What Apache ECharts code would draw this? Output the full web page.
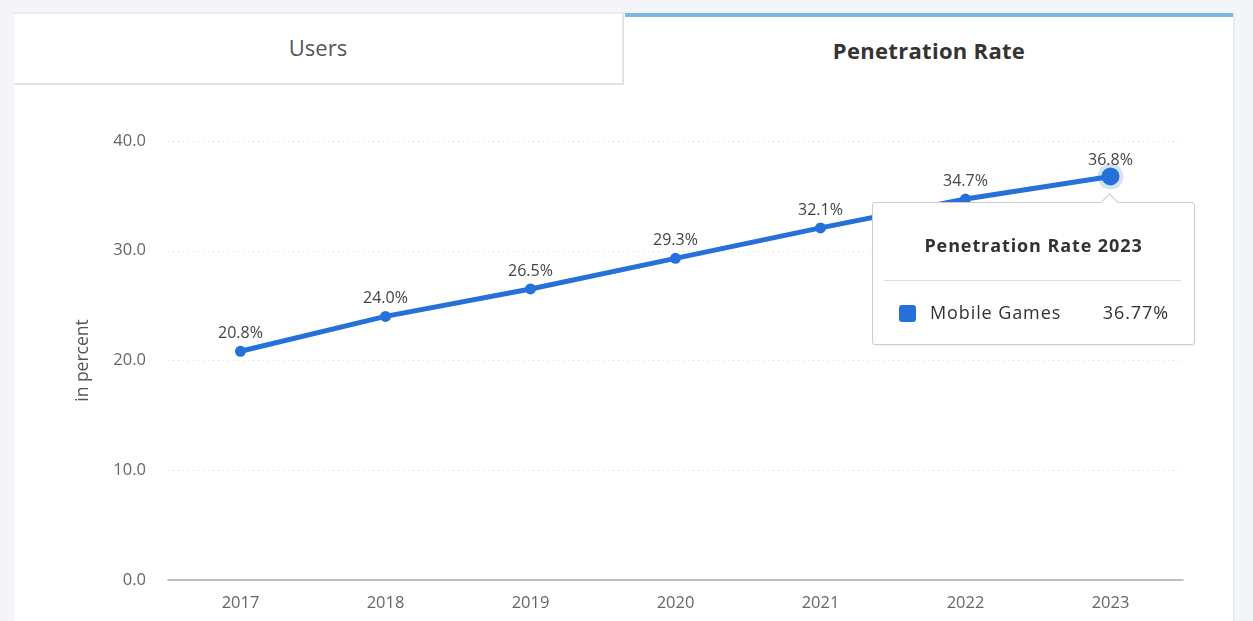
<!DOCTYPE html>
<html>
<head>
<meta charset="utf-8">
<script src="https://cdn.jsdelivr.net/npm/echarts@6/dist/echarts.min.js"></script>
<style>
  html, body { margin:0; padding:0; width:1253px; height:621px; overflow:hidden; background:#f4f5f8; font-family:'Open Sans', sans-serif; }
  #card { position:absolute; left:14px; top:13px; width:1219px; height:620px; background:#fff; box-shadow: 1px 0 2px rgba(0,0,0,0.08); }
  .tab { position:absolute; top:13px; height:70px; display:flex; align-items:center; justify-content:center; font-size:22px; color:#444; box-sizing:border-box; }
  #tab1 { left:14px; width:610px; background:#fff; border-right:2px solid #e3e3e3; border-bottom:2px solid #e3e3e3; border-top:1px solid #eaeaea; font-weight:400; color:#555; height:72px; padding-bottom:4px; }
  #tab2 { left:625px; width:608px; border-top:4px solid #7ab8e6; font-weight:700; color:#333; height:72px; padding-bottom:2px; letter-spacing:0.3px; }
  #chart { position:absolute; left:0; top:0; width:1253px; height:621px; }
</style>
</head>
<body>
<div id="card"></div>
<div class="tab" id="tab1">Users</div>
<div class="tab" id="tab2">Penetration Rate</div>
<div id="chart"></div>
<script>
const categories = ['2017','2018','2019','2020','2021','2022','2023'];
const values = [20.84, 24.02, 26.52, 29.31, 32.08, 34.71, 36.77];
const yTicks = [0, 10, 20, 30, 40];
const seriesName = 'Mobile Games';
const tooltipTitle = 'Penetration Rate 2023';
const highlightIndex = 6;
const lineColor = '#2671d9';

const chart = echarts.init(document.getElementById('chart'), null, {renderer:'canvas'});
const data = values.map((v, i) => i === highlightIndex
  ? { value: v, symbolSize: 18, itemStyle: { color: lineColor, borderColor: 'rgba(38,113,217,0.2)', borderWidth: 8 }, label: { distance: -5 } }
  : v);

chart.setOption({
  animation: false,
  backgroundColor: 'transparent',
  textStyle: { fontFamily: 'Open Sans' },
  grid: { left: 168, right: 70, top: 141, bottom: 41 },
  xAxis: {
    type: 'category',
    data: categories,
    boundaryGap: true,
    axisLine: { lineStyle: { color: '#aaa', width: 1.5 } },
    axisTick: { show: false },
    axisLabel: { color: '#666', fontSize: 16.5, margin: 15 }
  },
  yAxis: {
    type: 'value',
    min: yTicks[0], max: yTicks[yTicks.length-1], interval: 10,
    name: 'in percent',
    nameLocation: 'middle',
    nameGap: 76,
    nameTextStyle: { color: '#555', fontSize: 17.5 },
    axisLine: { show: false },
    axisTick: { show: false },
    axisLabel: { color: '#666', fontSize: 16.5, margin: 22, formatter: v => v.toFixed(1) },
    splitLine: { lineStyle: { color: '#ddd', type: [1, 4], width: 1 } }
  },
  tooltip: {
    trigger: 'item',
    triggerOn: 'none',
    alwaysShowContent: true,
    transitionDuration: 0,
    padding: 0,
    borderWidth: 0,
    backgroundColor: 'transparent',
    extraCssText: 'box-shadow:none;overflow:visible;',
    position: () => [872, 202],
    formatter: (p) => {
      return '<div style="position:relative;width:321px;height:141px;border:1px solid #ccc;border-radius:3px;background:#fff;font-family:\'Open Sans\',sans-serif;box-shadow:0 1px 2px rgba(0,0,0,0.06);letter-spacing:0.9px;">' +
        '<div style="position:absolute;left:230px;top:-7px;width:12px;height:12px;background:#fff;border-left:1px solid #ccc;border-top:1px solid #ccc;transform:rotate(45deg);"></div>' +
        '<div style="position:absolute;left:0;right:0;top:32px;text-align:center;font-weight:700;font-size:18px;color:#333;">' + tooltipTitle + '</div>' +
        '<div style="position:absolute;left:11px;right:13px;top:77px;border-top:1px solid #ddd;"></div>' +
        '<div style="position:absolute;left:26px;top:102px;width:17px;height:17px;border-radius:3px;background:' + lineColor + ';"></div>' +
        '<div style="position:absolute;left:57px;top:99px;font-size:18px;color:#333;">' + seriesName + '</div>' +
        '<div style="position:absolute;right:25px;top:99px;font-size:18px;color:#333;">' + values[p.dataIndex].toFixed(2) + '%</div>' +
        '</div>';
    }
  },
  series: [{
    name: seriesName,
    type: 'line',
    data: data,
    symbol: 'circle',
    symbolSize: 11,
    lineStyle: { color: lineColor, width: 5 },
    itemStyle: { color: lineColor },
    label: { show: true, position: 'top', distance: 4, color: '#444', fontSize: 16, formatter: p => p.value.toFixed(1) + '%' },
    emphasis: { disabled: true }
  }]
});
chart.dispatchAction({ type: 'showTip', seriesIndex: 0, dataIndex: highlightIndex });
</script>
</body>
</html>
